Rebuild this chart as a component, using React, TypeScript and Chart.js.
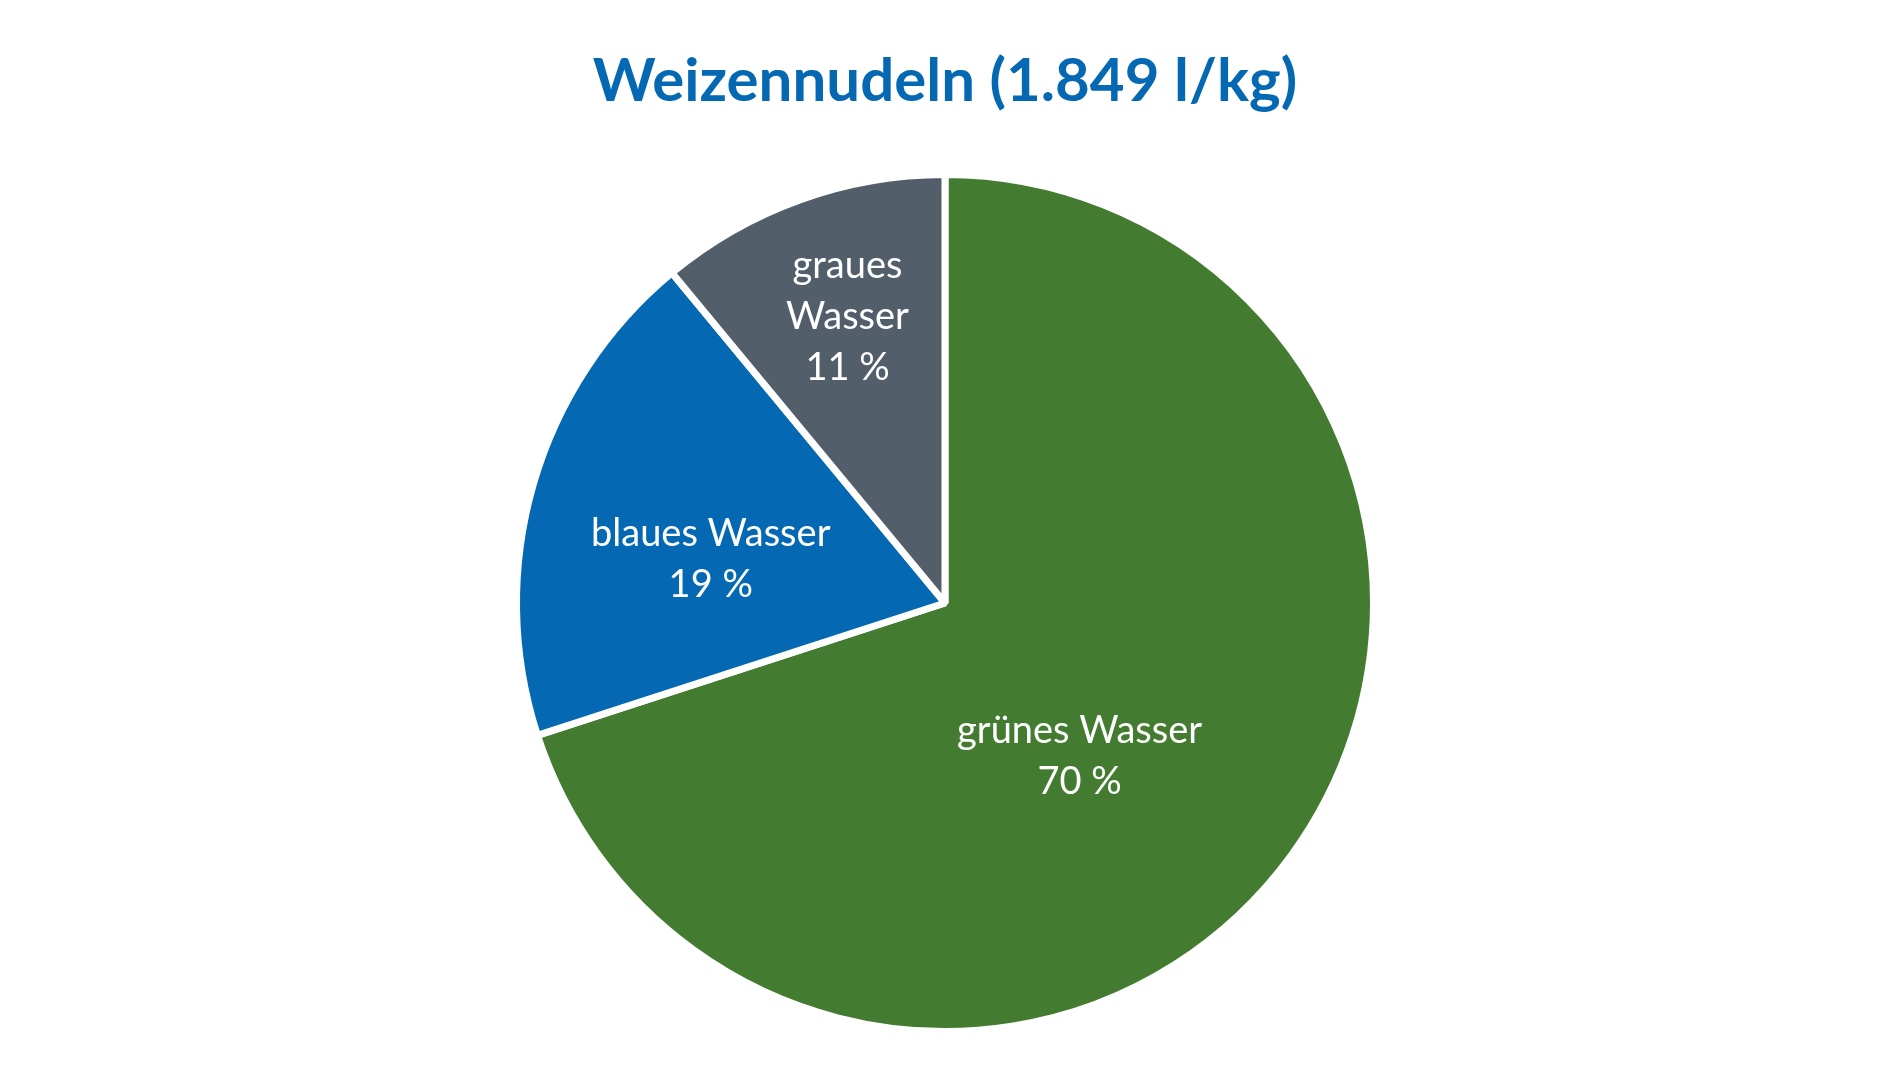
import { useEffect, useRef } from "react";
import { Chart, registerables } from "chart.js";

Chart.register(...registerables);

const titleText = "Weizennudeln (1.849 l/kg)";
const categories = ["grünes Wasser", "blaues Wasser", "graues Wasser"];
const labelLines = [["grünes Wasser"], ["blaues Wasser"], ["graues", "Wasser"]];
const shares = [70, 19, 11];
const sliceColors = ["#437C30", "#0468B2", "#525E6A"];

// label placement (style): angle offset from slice middle (deg), radius fraction
const labelAngleOffset = [12.7, -5.7, 1.0];
const labelRadius = [0.476, 0.556, 0.706];
const LABEL_SIZE = 38;
const LABEL_LINE = 51;
const FONT = "Lato, 'Open Sans', 'Noto Sans', sans-serif";

const labelPlugin = {
  id: "sliceLabels",
  afterDatasetsDraw(chart: any) {
    const meta = chart.getDatasetMeta(0);
    const ctx = chart.ctx;
    ctx.save();
    ctx.fillStyle = "#ffffff";
    ctx.font = `${LABEL_SIZE}px ${FONT}`;
    ctx.textAlign = "center";
    ctx.textBaseline = "middle";
    meta.data.forEach((arc: any, i: number) => {
      const p = arc.getProps(["x", "y", "startAngle", "endAngle", "outerRadius"], true);
      const mid = (p.startAngle + p.endAngle) / 2 + (labelAngleOffset[i] * Math.PI) / 180;
      const r = p.outerRadius * labelRadius[i];
      const cx = p.x + Math.cos(mid) * r;
      const cy = p.y + Math.sin(mid) * r;
      const lines = [...labelLines[i], `${shares[i]} %`];
      const total = (lines.length - 1) * LABEL_LINE;
      lines.forEach((t, k) => ctx.fillText(t, cx, cy - total / 2 + k * LABEL_LINE));
    });
    ctx.restore();
  },
};

export default function App() {
  const canvasRef = useRef<HTMLCanvasElement | null>(null);

  useEffect(() => {
    if (!canvasRef.current) return;
    const chart = new Chart(canvasRef.current, {
      type: "pie",
      data: {
        labels: categories,
        datasets: [
          {
            data: shares,
            backgroundColor: sliceColors,
            borderColor: "#ffffff",
            borderWidth: 7,
            hoverOffset: 0,
          },
        ],
      },
      options: {
        animation: false,
        responsive: true,
        maintainAspectRatio: false,
        layout: { padding: { top: 0, bottom: 55, left: 0, right: 2 } },
        plugins: {
          legend: { display: false },
          tooltip: { enabled: false },
          title: {
            display: true,
            text: titleText,
            color: "#0468B2",
            font: { family: FONT, size: 60, weight: "bold", lineHeight: 1.2 },
            padding: { top: 46, bottom: 53 },
          },
        },
      },
      plugins: [labelPlugin],
    });
    return () => chart.destroy();
  }, []);

  return (
    <div
      style={{
        position: "fixed",
        left: 0,
        top: 0,
        width: 1892,
        height: 1090,
        background: "#ffffff",
      }}
    >
      <canvas ref={canvasRef} style={{ width: "100%", height: "100%" }} />
    </div>
  );
}
